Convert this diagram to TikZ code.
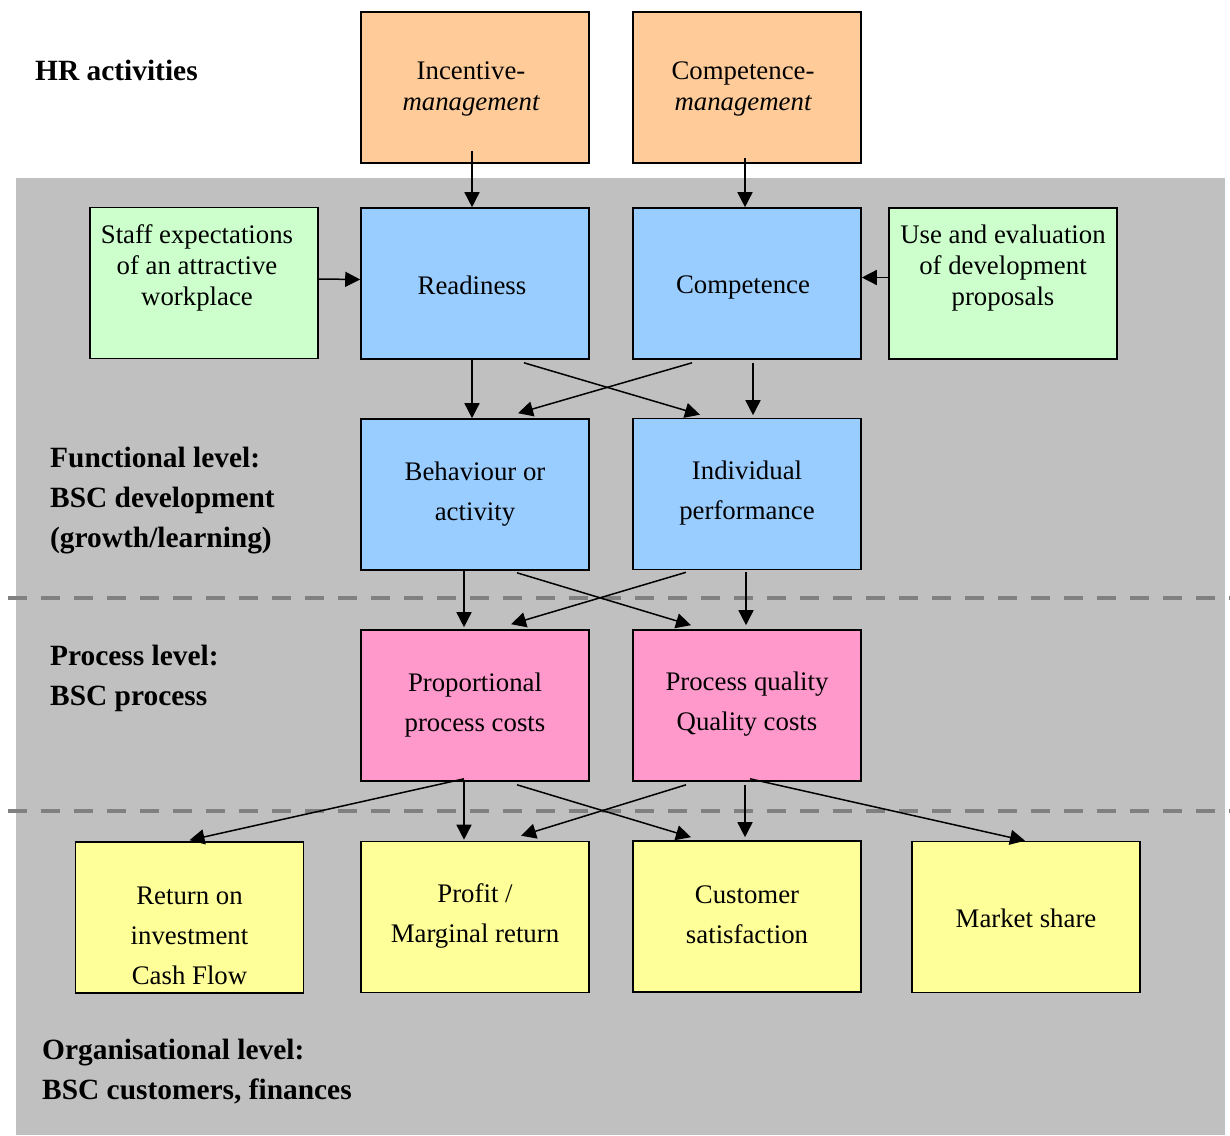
\documentclass[tikz,border=0pt]{standalone}
\usepackage{fontspec}
\setmainfont{Liberation Serif}
\usetikzlibrary{arrows.meta}
\definecolor{orangebox}{HTML}{FFCC99}
\definecolor{bluebox}{HTML}{99CCFF}
\definecolor{greenbox}{HTML}{CCFFCC}
\definecolor{pinkbox}{HTML}{FF99CC}
\definecolor{yellowbox}{HTML}{FFFF99}
\definecolor{bggray}{HTML}{C0C0C0}
\definecolor{dashgray}{HTML}{808080}
\tikzset{
  box/.style={draw=black, line width=1.6pt, minimum width=228pt, minimum height=151pt, inner sep=0pt},
  boxtext/.style={align=center, inner sep=0pt, font=\fontsize{26.8}{40}\selectfont},
  boxtextnarrow/.style={align=center, inner sep=0pt, font=\fontsize{26.8}{31}\selectfont},
  lvl/.style={align=left, inner sep=0pt, anchor=west, font=\fontsize{29.4}{40}\selectfont\bfseries},
  arr/.style={line width=1.5pt, -{Triangle[length=15pt,width=15pt]}},
  sep/.style={dashgray, line width=4pt, dash pattern=on 19pt off 14pt}
}
\begin{document}
\begin{tikzpicture}[x=1pt, y=-1pt]
\useasboundingbox (0,0) rectangle (1230,1135);
\fill[white] (0,0) rectangle (1230,1135);
\fill[bggray] (16,178) rectangle (1225,1135);
\draw[sep] (8,598) -- (1230,598);
\draw[sep] (8,811) -- (1230,811);

% boxes
\node[box, fill=orangebox] (inc) at (475,87.5) {};
\node[box, fill=orangebox] (cm) at (747,87.5) {};
\node[box, fill=greenbox] (staff) at (204,283) {};
\node[box, fill=bluebox] (readi) at (475,283.5) {};
\node[box, fill=bluebox] (comp) at (747,283.5) {};
\node[box, fill=greenbox] (use) at (1003,283.5) {};
\node[box, fill=bluebox] (beh) at (475,494.5) {};
\node[box, fill=bluebox] (indiv) at (747,494) {};
\node[box, fill=pinkbox] (prop) at (475,705.5) {};
\node[box, fill=pinkbox] (pq) at (747,705.5) {};
\node[box, fill=yellowbox] (roi) at (189.5,917.5) {};
\node[box, fill=yellowbox] (profit) at (475,917) {};
\node[box, fill=yellowbox] (cust) at (747,916.5) {};
\node[box, fill=yellowbox] (mkt) at (1026,917) {};

% texts
\node[boxtextnarrow] (tinc) at ([xshift=-4pt,yshift=-1pt]inc.center) {Incentive-\\\itshape management};
\node[boxtextnarrow] (tcm) at ([xshift=-4pt,yshift=-1pt]cm.center) {Competence-\\\itshape management};
\node[boxtextnarrow] (tstaff) at ([xshift=-7pt,yshift=15pt]staff.center) {Staff expectations\\of an attractive\\workplace};
\node[boxtextnarrow] (tuse) at ([yshift=15.5pt]use.center) {Use and evaluation\\of development\\proposals};
\node[boxtext] (treadi) at ([xshift=-3pt,yshift=-2pt]readi.center) {Readiness};
\node[boxtext] (tcomp) at ([xshift=-4pt,yshift=-3.5pt]comp.center) {Competence};
\node[boxtext] (tbeh) at ([yshift=0.5pt]beh.center) {Behaviour or\\activity};
\node[boxtext] (tindiv) at ([yshift=1pt]indiv.center) {Individual\\performance};
\node[boxtext] (tprop) at ([yshift=0.5pt]prop.center) {Proportional\\process costs};
\node[boxtext] (tpq) at ([yshift=1.5pt]pq.center) {Process quality\\Quality costs};
\node[boxtext] (troi) at ([yshift=-18pt]roi.center) {Return on\\investment\\Cash Flow};
\node[boxtext] (tprofit) at ([yshift=1.5pt]profit.center) {Profit /\\Marginal return};
\node[boxtext] (tcust) at ([yshift=2pt]cust.center) {Customer\\satisfaction};
\node[boxtext] (tmkt) at ([yshift=-1.5pt]mkt.center) {Market share};

% level labels
\node[lvl] (lhr) at (35,70) {HR activities};
\node[lvl] (lfun) at (50,501) {Functional level:\\BSC development\\(growth/learning)};
\node[lvl] (lproc) at (50,678) {Process level:\\BSC process};
\node[lvl] (lorg) at (42,1072) {Organisational level:\\BSC customers, finances};

% arrows
\draw[arr] ([xshift=-3pt,yshift=13pt]inc.south) -- ([xshift=-3pt]readi.north);
\draw[arr] ([xshift=-2pt,yshift=6pt]cm.south) -- ([xshift=-2pt]comp.north);
\draw[arr] ([yshift=4pt]staff.east) -- ([yshift=4pt]readi.west);
\draw[arr] ([yshift=6pt]use.west) -- ([yshift=6pt]comp.east);

\draw[arr] ([xshift=-3pt]readi.south) -- ([xshift=-3pt]beh.north);
\draw[arr] ([xshift=49pt,yshift=-3pt]readi.south) -- ([xshift=-47pt,yshift=3pt]indiv.north);
\draw[arr] ([xshift=-55pt,yshift=-3pt]comp.south) -- ([xshift=43pt,yshift=5pt]beh.north);
\draw[arr] ([xshift=6pt,yshift=-3pt]comp.south) -- ([xshift=6pt,yshift=2.5pt]indiv.north);

\draw[arr] ([xshift=-11pt]beh.south) -- ([xshift=-11pt,yshift=2pt]prop.north);
\draw[arr] ([xshift=42pt,yshift=-2pt]beh.south) -- ([xshift=-56pt,yshift=4pt]pq.north);
\draw[arr] ([xshift=-61pt,yshift=-2pt]indiv.south) -- ([xshift=36pt,yshift=5pt]prop.north);
\draw[arr] ([xshift=-1pt,yshift=-2pt]indiv.south) -- ([xshift=-1pt,yshift=4pt]pq.north);

\draw[arr] ([xshift=-11pt,yshift=3pt]prop.south) -- ([yshift=1pt]roi.north);
\draw[arr] ([xshift=-11pt]prop.south) -- ([xshift=-11pt,yshift=1pt]profit.north);
\draw[arr] ([xshift=42pt,yshift=-3pt]prop.south) -- ([xshift=-56pt,yshift=3pt]cust.north);
\draw[arr] ([xshift=-61pt,yshift=-3pt]pq.south) -- ([xshift=46pt,yshift=5pt]profit.north);
\draw[arr] ([xshift=-2pt,yshift=-3pt]pq.south) -- ([xshift=-2pt,yshift=3pt]cust.north);
\draw[arr] ([xshift=3pt,yshift=3pt]pq.south) -- ([xshift=-1pt]mkt.north);
\end{tikzpicture}
\end{document}
